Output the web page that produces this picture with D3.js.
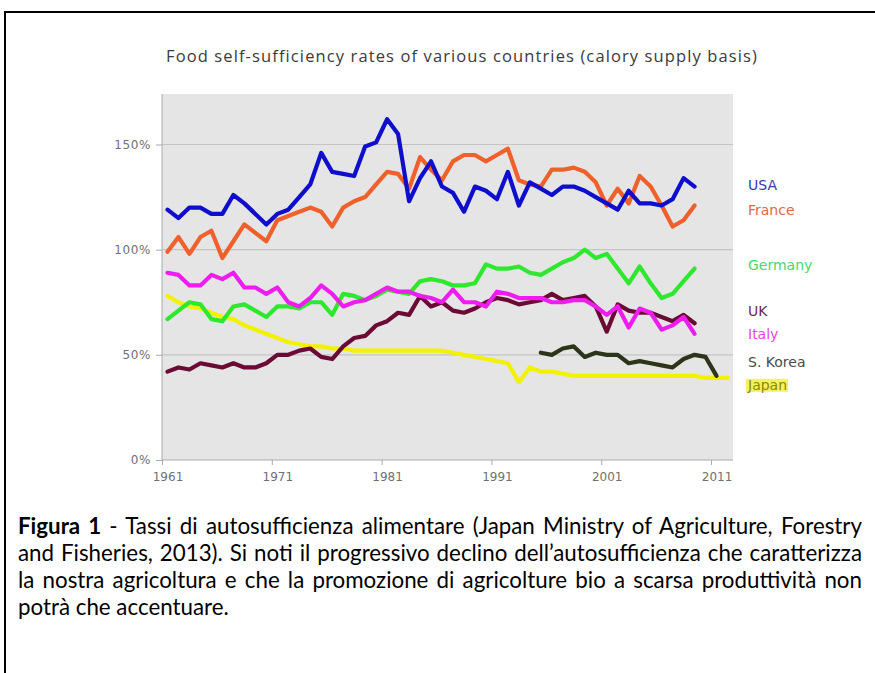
<html>
<head>
<style>
body{margin:0;background:#fff;}
.axis text{font-family:"DejaVu Sans",Verdana,sans-serif;font-size:12px;fill:#707070;}
.axis path,.axis line{stroke:#aaa;}
.lbl{font-family:"DejaVu Sans",Verdana,sans-serif;font-size:14px;}
.cap{font-family:Lato,"Open Sans",sans-serif;fill:#000;}
.ttl{font-family:"Open Sans",Lato,sans-serif;}
</style>
</head>
<body>
<script src="https://d3js.org/d3.v7.min.js"></script>
<script>
// values, % (calory supply basis)
var usaStart = 1961;
var usa = [119,115,120,120,117,117,126,122,117,112,
           117,119,125,131,146,137,136,135,149,151,
           162,155,123,134,142,130,127,118,130,128,
           124,137,121,132,129,126,130,130,128,125,
           122,119,128,122,122,121,124,134,130];
var franceStart = 1961;
var france = [99,106,98,106,109,96,104,112,108,104,
              114,116,118,120,118,111,120,123,125,131,
              137,136,129,144,138,133,142,145,145,142,
              145,148,133,131,130,138,138,139,137,132,
              121,129,122,135,130,121,111,114,121];
var germanyStart = 1961;
var germany = [67,71,75,74,67,66,73,74,71,68,
               73,73,72,75,75,69,79,78,76,78,
               81,80,79,85,86,85,83,83,84,93,
               91,91,92,89,88,91,94,96,100,96,
               98,91,84,92,84,77,79,85,91];
var ukStart = 1961;
var uk = [42,44,43,46,45,44,46,44,44,46,
          50,50,52,53,49,48,54,58,59,64,
          66,70,69,78,73,75,71,70,72,75,
          77,76,74,75,76,79,76,77,78,73,
          61,74,71,70,70,68,66,69,65];
var italyStart = 1961;
var italy = [89,88,83,83,88,86,89,82,82,79,
             82,75,73,77,83,79,73,75,76,79,
             82,80,80,78,77,75,81,75,75,73,
             80,79,77,77,77,75,75,76,76,73,
             69,73,63,72,70,62,64,68,60];
var koreaStart = 1995;
var korea = [51,50,53,54,49,51,50,50,46,47,46,45,44,48,50,49,40];
var japanStart = 1961;
var japan = [78,75,73,72,70,68,67,64,62,60,
             58,56,55,54,54,53,53,52,52,52,
             52,52,52,52,52,52,51,50,49,48,
             47,46,37,44,42,42,41,40,40,40,
             40,40,40,40,40,40,40,40,40,39,
             39,39];

var names = ["USA","France","Germany","UK","Italy","S. Korea","Japan"];
var yTicks = [0,50,100,150];
var xTicks = [1961,1971,1981,1991,2001,2011];
var title = "Food self-sufficiency rates of various countries (calory supply basis)";
var captionBold = "Figura 1";
var captionLines = [
  " - Tassi di autosufficienza alimentare (Japan Ministry of Agriculture, Forestry",
  "and Fisheries, 2013). Si noti il progressivo declino dell\u2019autosufficienza che caratterizza",
  "la nostra agricoltura e che la promozione di agricolture bio a scarsa produttivit\u00e0 non",
  "potr\u00e0 che accentuare."
];

// styling
var colors = {"USA":"#0e0ecc","France":"#f0602a","Germany":"#2ee82e","UK":"#6a0a35",
              "Italy":"#ee1cee","S. Korea":"#2c3518","Japan":"#f2f200"};
var labelColors = {"USA":"#3a3aa8","France":"#e0684a","Germany":"#48d868","UK":"#6a2a4a",
                   "Italy":"#e048e0","S. Korea":"#4a4a4a","Japan":"#8a8a00"};
var labelAt = {"USA":130.5,"France":119,"Germany":92.5,"UK":71,"Italy":60,"S. Korea":46.7,"Japan":35.7};

var series = [
  {name:"Japan", start:japanStart, values:japan},
  {name:"S. Korea", start:koreaStart, values:korea},
  {name:"Germany", start:germanyStart, values:germany},
  {name:"UK", start:ukStart, values:uk},
  {name:"Italy", start:italyStart, values:italy},
  {name:"France", start:franceStart, values:france},
  {name:"USA", start:usaStart, values:usa}
];

var W = 875, H = 673;
var svg = d3.select("body").append("svg").attr("width", W).attr("height", H);

// frame
svg.append("rect").attr("x",5).attr("y",12).attr("width",W+20).attr("height",H+20)
   .attr("fill","none").attr("stroke","#000").attr("stroke-width",2);

// scales
var x = d3.scaleLinear().domain([1961, 2013]).range([162, 733]);
var xMid = x.copy().domain([1960.5, 2012.5]);
var y = d3.scaleLinear().domain([0, 174]).range([460, 94]);

svg.append("rect").attr("x",x(1961)).attr("y",y(174))
   .attr("width",x(2013)-x(1961)).attr("height",y(0)-y(174)).attr("fill","#e5e5e5");

svg.append("g").selectAll("line").data(yTicks.filter(function(d){return d>0;})).join("line")
   .attr("x1",x(1961)).attr("x2",x(2013)).attr("y1",function(d){return y(d);}).attr("y2",function(d){return y(d);})
   .attr("stroke","#c4c4c4").attr("stroke-width",1.2);

var yAxis = svg.append("g").attr("class","axis").attr("transform","translate("+x(1961)+",0)")
   .call(d3.axisLeft(y).tickValues(yTicks).tickSize(6).tickPadding(5).tickFormat(function(d){return d+"%";}));
yAxis.select(".domain").attr("d","M0,"+y(0)+"V"+y(174));
yAxis.selectAll("text").attr("letter-spacing",0.6);

var xAxis = svg.append("g").attr("class","axis").attr("transform","translate(0,"+y(0)+")")
   .call(d3.axisBottom(x).tickValues(xTicks).tickSize(5).tickFormat(""));
xAxis.select(".domain").attr("d","M"+x(1961)+",0H"+x(2013));
svg.append("g").attr("class","axis").attr("transform","translate(0,"+y(0)+")")
   .call(d3.axisBottom(xMid).tickValues(xTicks).tickSize(0).tickPadding(12).tickFormat(d3.format("d")))
   .call(function(g){g.select(".domain").remove();});

// lines
var line = d3.line().x(function(d){return x(d.year+0.5);}).y(function(d){return y(d.v);});
svg.append("g").selectAll("path").data(series).join("path")
   .attr("d",function(s){return line(s.values.map(function(v,i){return {year:s.start+i, v:v};}));})
   .attr("fill","none").attr("stroke",function(s){return colors[s.name];})
   .attr("stroke-width",4.2).attr("stroke-linejoin","round").attr("stroke-linecap","round");

// country labels
var jp = svg.append("rect").attr("fill","#f2f24a").attr("opacity",0.9);
var lbl = svg.append("g").selectAll("text").data(names).join("text")
   .attr("class","lbl").attr("x",748).attr("y",function(d){return y(labelAt[d]);})
   .attr("dy","0.35em").attr("fill",function(d){return labelColors[d];}).text(function(d){return d;});
var jb = lbl.filter(function(d){return d==="Japan";}).node().getBBox();
jp.attr("x",jb.x-1).attr("y",jb.y+2).attr("width",jb.width+2).attr("height",jb.height-3);

// title, fitted to its width in the figure
var t = svg.append("text").attr("class","ttl").attr("x",166).attr("y",62)
   .attr("fill","#3a3a3a").style("font-size","16.5px").text(title);
var tw = t.node().getComputedTextLength();
t.attr("letter-spacing",(592-tw)/title.length);

// caption: size so the widest line fits, then justify the first three
var capX = 18, capW = 844, lineH = 27, capY = 534;
var probe = svg.append("text").attr("class","cap").style("font-size","18px");
var widest = 0;
captionLines.forEach(function(s,i){
  probe.selectAll("tspan").remove();
  if(i===0) probe.append("tspan").attr("font-weight","bold").text(captionBold);
  probe.append("tspan").text(s);
  widest = Math.max(widest, probe.node().getComputedTextLength());
});
var fs = 18*832/widest;
probe.remove();
captionLines.forEach(function(s,i){
  var tx = svg.append("text").attr("class","cap").attr("x",capX).attr("y",capY+i*lineH)
     .style("font-size",fs+"px");
  if(i===0) tx.append("tspan").attr("font-weight","bold").text(captionBold);
  tx.append("tspan").text(s);
  if(i<3){
    var w = tx.node().getComputedTextLength();
    var gaps = (i===0 ? captionBold+s : s).split(" ").length-1;
    tx.attr("word-spacing",Math.max(0,(capW-w)/gaps));
  }
});
</script>
</body>
</html>
